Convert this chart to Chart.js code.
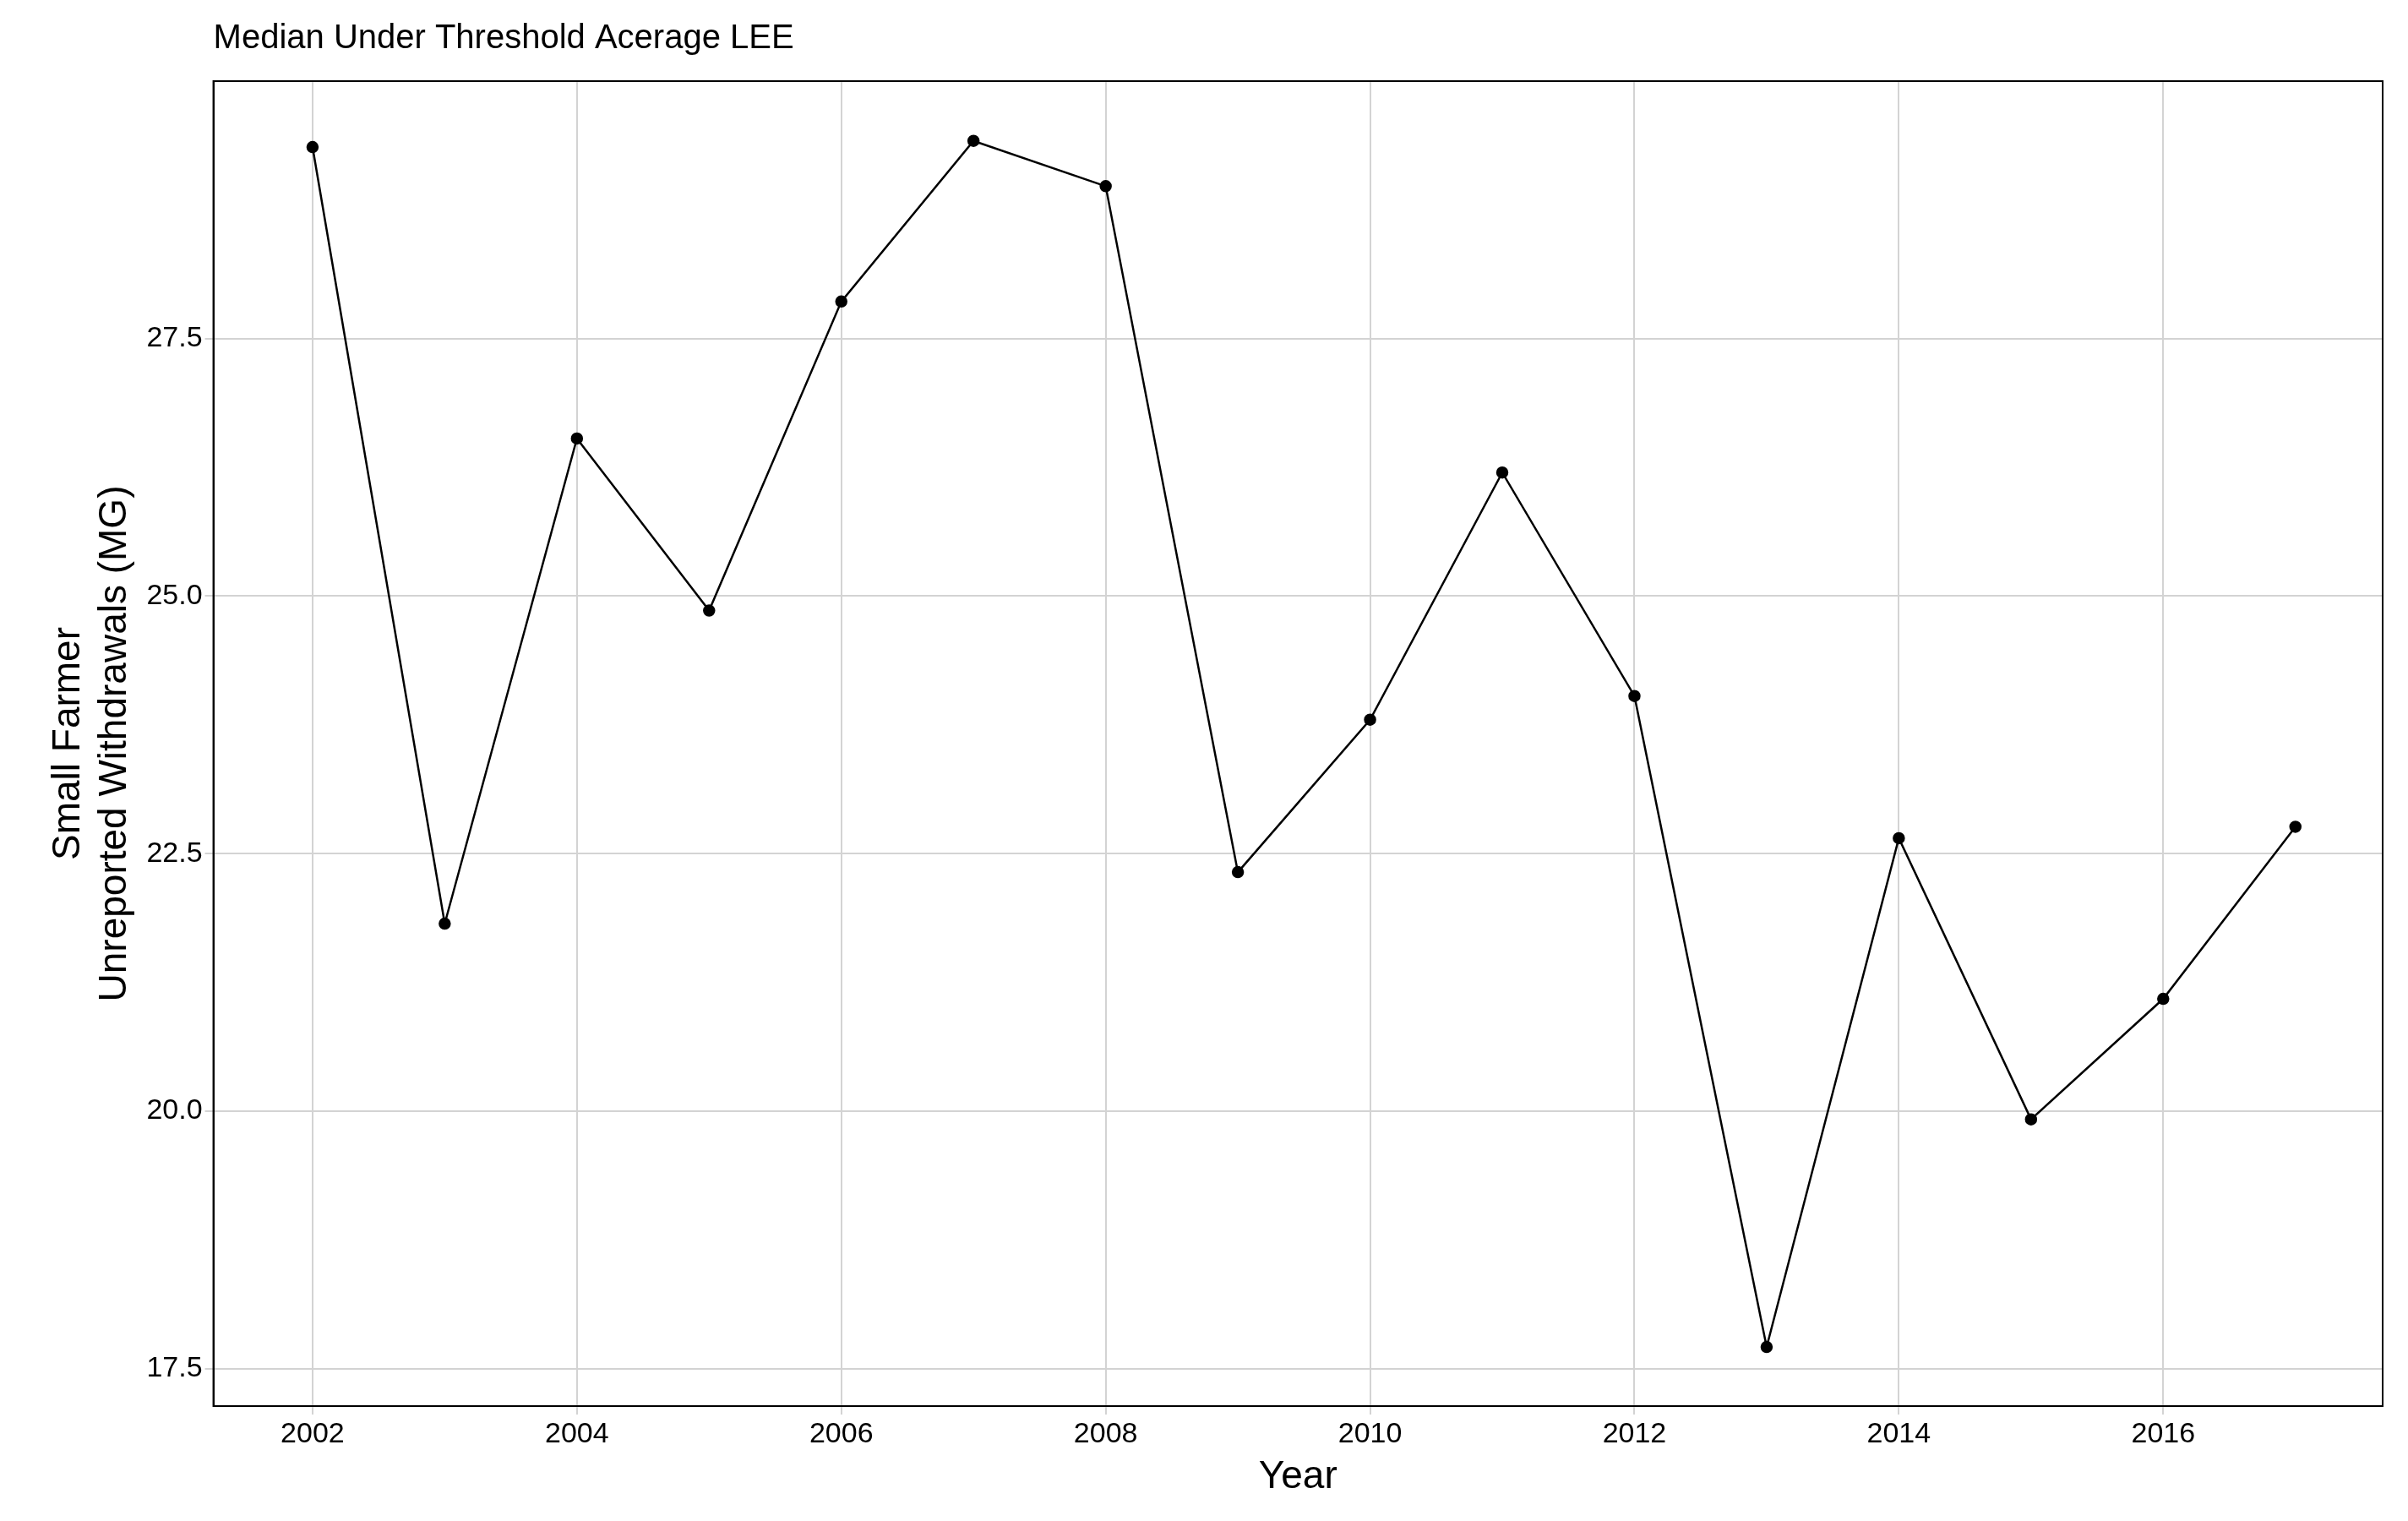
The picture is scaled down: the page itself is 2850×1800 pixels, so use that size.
<!DOCTYPE html>
<html>
<head>
<meta charset="utf-8">
<script src="https://cdn.jsdelivr.net/npm/chart.js@4"></script>
<style>
  body { margin: 0; background: #fff; }
  #wrap { width: 2850px; height: 1800px; }
</style>
</head>
<body>
<div id="wrap"><canvas id="c"></canvas></div>
<script>
// Daten
const years = [2002, 2003, 2004, 2005, 2006, 2007, 2008, 2009, 2010, 2011, 2012, 2013, 2014, 2015, 2016, 2017];
const values = [29.36, 21.82, 26.53, 24.86, 27.86, 29.42, 28.98, 22.32, 23.80, 26.20, 24.03, 17.71, 22.65, 19.92, 21.09, 22.76];
const xTicks = [2002, 2004, 2006, 2008, 2010, 2012, 2014, 2016];
const yTicks = [17.5, 20.0, 22.5, 25.0, 27.5];
const titleText = 'Median Under Threshold Acerage LEE';

const font = 'Arial, "Liberation Sans", sans-serif';

new Chart(document.getElementById('c'), {
    type: 'line',
    data: {
        datasets: [{
            data: years.map((y, i) => ({ x: y, y: values[i] })),
            borderColor: '#000',
            backgroundColor: '#000',
            borderWidth: 2.5,
            pointRadius: 6,
            tension: 0
        }]
    },
    options: {
        responsive: true,
        maintainAspectRatio: false,
        devicePixelRatio: 1,
        animation: false,
        layout: { padding: { top: 96, right: 30, left: 50, bottom: 20 } },
        plugins: {
            legend: { display: false },
            tooltip: { enabled: false },
            title: { display: false }
        },
        scales: {
            x: {
                type: 'linear',
                min: 2001.25,
                max: 2017.66,
                afterBuildTicks: axis => { axis.ticks = xTicks.map(v => ({ value: v })); },
                ticks: { color: '#000', font: { family: font, size: 34 }, callback: v => String(v), maxRotation: 0 },
                grid: { color: '#d3d3d3', lineWidth: 2, tickLength: 10 },
                border: { color: '#000', width: 2 },
                title: { display: true, text: 'Year', color: '#000', font: { family: font, size: 46 }, padding: { top: 0 } }
            },
            y: {
                min: 17.136,
                max: 30.0,
                afterBuildTicks: axis => { axis.ticks = yTicks.map(v => ({ value: v })); },
                ticks: { color: '#000', font: { family: font, size: 34 }, callback: v => v.toFixed(1) },
                grid: { color: '#d3d3d3', lineWidth: 2, tickLength: 10 },
                border: { color: '#000', width: 2 },
                title: { display: true, text: ['Small Farmer', 'Unreported Withdrawals (MG)'], color: '#000', font: { family: font, size: 46 }, padding: { bottom: 6 } }
            }
        }
    },
    plugins: [{
        id: 'frame',
        afterDraw(chart) {
            const { ctx, chartArea: a } = chart;
            ctx.save();
            ctx.strokeStyle = '#000';
            ctx.lineWidth = 2;
            ctx.strokeRect(a.left, a.top, a.right - a.left, a.bottom - a.top);
            ctx.fillStyle = '#000';
            ctx.font = '40px ' + font;
            ctx.textBaseline = 'middle';
            ctx.textAlign = 'left';
            ctx.fillText(titleText, a.left, 46);
            ctx.restore();
        }
    }]
});
</script>
</body>
</html>
